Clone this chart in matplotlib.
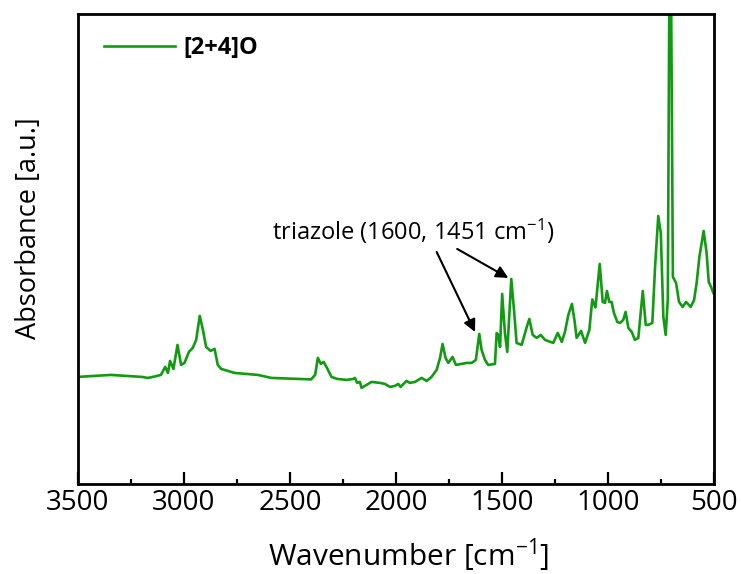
import matplotlib
matplotlib.use("Agg")
import matplotlib.pyplot as plt
from matplotlib.ticker import MultipleLocator

plt.rcParams['font.family'] = ['Open Sans', 'DejaVu Sans']
plt.rcParams['mathtext.fontset'] = 'custom'
plt.rcParams['mathtext.rm'] = 'Open Sans'
plt.rcParams['mathtext.it'] = 'Open Sans:italic'
plt.rcParams['mathtext.default'] = 'regular'

# === FTIR spectrum of [2+4]O (arbitrary units) ===
wavenumber = [3500, 3344, 3198, 3170, 3146, 3108, 3088, 3075, 3065, 3049,
              3030, 3013, 2997, 2976, 2958, 2942, 2925, 2910, 2895, 2874,
              2855, 2840, 2824, 2761, 2651, 2588, 2400, 2381, 2368, 2354,
              2341, 2325, 2304, 2277, 2233, 2201, 2193, 2183, 2170, 2162,
              2138, 2115, 2075, 2052, 2028, 2005, 1989, 1978, 1950, 1934,
              1910, 1879, 1855, 1832, 1808, 1792, 1780, 1766, 1753, 1733,
              1717, 1690, 1666, 1643, 1623, 1607, 1596, 1580, 1565, 1533,
              1525, 1517, 1509, 1499, 1486, 1475, 1456, 1442, 1431, 1407,
              1383, 1371, 1355, 1336, 1317, 1297, 1258, 1237, 1218, 1203,
              1187, 1170, 1157, 1148, 1127, 1108, 1088, 1074, 1059, 1039,
              1025, 1014, 1005, 994, 983, 972, 956, 943, 928, 917,
              904, 888, 873, 857, 836, 822, 810, 791, 778, 763,
              751, 739, 728, 718, 707, 694, 679, 665, 648, 632,
              610, 594, 582, 569, 549, 535, 525, 514, 503]
absorbance = [107, 109, 107, 106, 107, 109, 117, 111, 123, 115,
              139, 119, 121, 132, 136, 144, 168, 154, 137, 133,
              135, 119, 115, 111, 109, 106, 104.5, 109, 126, 120,
              122, 116, 107, 105, 104, 105, 106, 101, 102, 96,
              99, 102, 101, 100, 97, 98, 100, 97, 103, 101,
              102, 106, 103, 107, 114, 126, 140, 126, 121, 127,
              119, 120, 121, 121, 124, 150, 134, 124, 119, 120,
              151, 149, 137, 190, 151, 132, 205, 171, 141, 139,
              157, 165, 149, 146, 149, 144, 141, 151, 142, 152,
              169, 180, 162, 146, 153, 141, 154, 184.5, 176.5, 220,
              182, 181, 193, 182, 182, 171, 162, 161, 164, 172,
              156, 152, 144, 146, 193, 159, 159, 161, 217, 268,
              251, 167, 149, 184, 650, 207, 201, 182, 177, 182,
              177, 184, 201, 227, 253, 231, 202, 197, 191]

label = "[2+4]O"
note_text = "triazole (1600, 1451 cm$^{-1}$)"
note_xy = (2582, 244)
arrow_tails = [(1808, 232), (1711, 235)]
arrow_heads = [(1627, 152), (1470, 206)]

fig = plt.figure(figsize=(7.41, 5.74), dpi=100)
ax = fig.add_axes([0.105, 0.157, 0.8586, 0.8186])

ax.plot(wavenumber, absorbance, color='#139a13', lw=1.9, label=label)

ax.set_xlim(3500, 500)
ax.set_ylim(0, 470)

ax.xaxis.set_major_locator(MultipleLocator(500))
ax.xaxis.set_minor_locator(MultipleLocator(250))
ax.tick_params(axis='x', which='major', direction='in', length=8.5, width=1.6,
               labelsize=20, pad=4, top=False)
ax.tick_params(axis='x', which='minor', direction='in', length=3.7, width=1.6, top=False)
ax.set_yticks([])
for s in ax.spines.values():
    s.set_linewidth(2.0)

ax.set_xlabel("Wavenumber [cm$^{-1}$]", fontsize=21.5)
ax.xaxis.set_label_coords(0.52, -0.112)
ax.set_ylabel("Absorbance [a.u.]", fontsize=19.5)
ax.yaxis.set_label_coords(-0.055, 0.545)

# === annotation with two arrows ===
ax.text(note_xy[0], note_xy[1], note_text, fontsize=17, ha='left', va='baseline')
for tail, head in zip(arrow_tails, arrow_heads):
    ax.annotate("", xy=head, xytext=tail,
                arrowprops=dict(arrowstyle='-|>', color='black', lw=1.5,
                                mutation_scale=18, shrinkA=0, shrinkB=0))

leg = ax.legend(loc='upper left', frameon=False, handlelength=3.0,
                handletextpad=0.35, prop={'weight': 'bold', 'size': 17},
                bbox_to_anchor=(0.015, 0.988), borderaxespad=0.3)

fig.savefig("out.png", dpi=100)
